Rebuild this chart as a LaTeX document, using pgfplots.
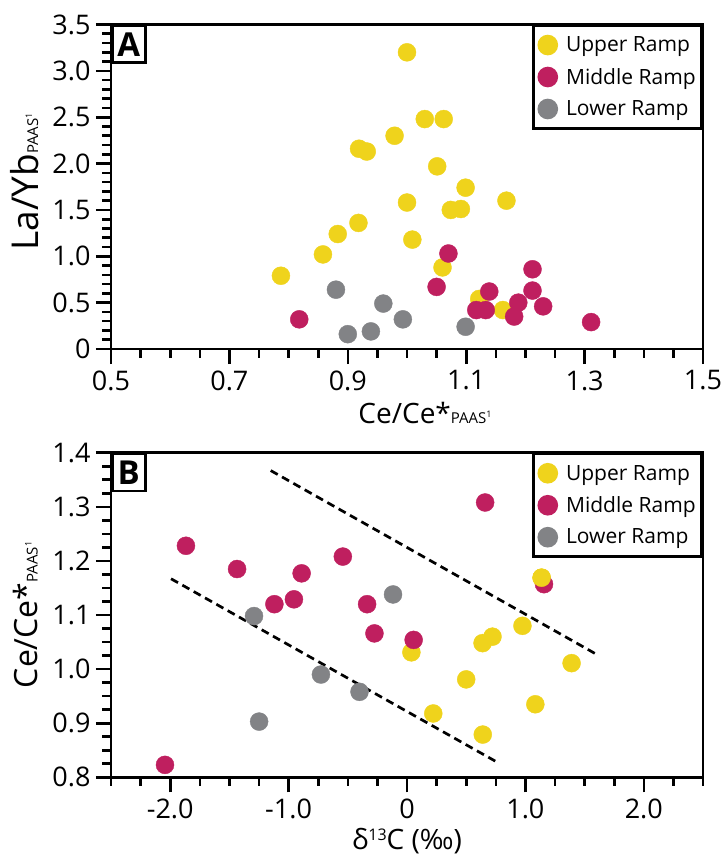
\documentclass[border=0pt]{standalone}
\usepackage{fontspec}
\setmainfont{Open Sans}
\usepackage{pgfplots}
\pgfplotsset{compat=1.18}
\definecolor{uyellow}{HTML}{EFD31C}
\definecolor{umag}{HTML}{BF1F5F}
\definecolor{ugrey}{HTML}{828386}
\newcommand\setfs[1]{\fontsize{#1}{#1}\selectfont}
\newcommand\paas{{\setfs{15}PAAS\raisebox{6pt}{\setfs{9}1}}}
\tikzset{tk/.style={black, line width=2.6pt}}

\pgfplotsset{
  panel/.style={
    scale only axis, width=592pt, height=324.5pt,
    anchor=south west, clip=false,
    axis line style={line width=2.6pt},
    xtick pos=left, ytick pos=left,
    tick align=outside,
    major tick length=15pt, minor tick length=9pt,
    tick style={black, line width=2.6pt},
    tick label style={font=\setfs{27}},
    xticklabel style={yshift=-3pt},
    yticklabel style={xshift=-2pt},
    legend style={at={(1,1)}, anchor=north east, draw=black, line width=2.6pt,
      font=\setfs{21}, inner sep=4pt, nodes={inner xsep=2pt, inner ysep=7pt},
      row sep=1pt, cells={anchor=west},
      /tikz/every odd column/.append style={column sep=6pt}},
    legend image code/.code={\fill[##1] (0pt,0pt) circle (9pt);},
  },
  up/.style={only marks, mark=*, mark size=9pt, color=uyellow, mark options={draw=none}},
  mid/.style={only marks, mark=*, mark size=9pt, color=umag, mark options={draw=none}},
  low/.style={only marks, mark=*, mark size=9pt, color=ugrey, mark options={draw=none}},
  trend/.style={black, line width=2.7pt, dash pattern=on 8pt off 5pt, forget plot},
}

\begin{document}
\begin{tikzpicture}

% panel A
\begin{axis}[panel, at={(111pt,-349pt)},
  xmin=0.5, xmax=1.5, ymin=0, ymax=3.5,
  xtick={0.5,0.7,0.9,1.1,1.3,1.5}, xticklabels={0.5,0.7,0.9,1.1,1.3,1.5},
  ytick={0,0.5,1,1.5,2,2.5,3,3.5}, yticklabels={0,0.5,1.0,1.5,2.0,2.5,3.0,3.5},
  xlabel={Ce/Ce*\paas},
  xlabel style={at={(axis description cs:0.5,0)}, anchor=base, yshift=-74pt, xshift=18pt, font=\setfs{28}},
  ylabel={La/Yb\paas},
  ylabel style={at={(axis description cs:-0.1233,0.515)}, anchor=base, font=\setfs{37}},
]
% tick marks
\pgfplotsinvokeforeach{0.5,0.7,0.9,1.1,1.3,1.5}{
  \draw[tk] (axis cs:#1,0) -- ++(0pt,-15pt);}
\pgfplotsinvokeforeach{0.55,0.6,0.65,0.75,0.8,0.85,0.95,1.0,1.05,1.15,1.2,1.25,1.35,1.4,1.45}{
  \draw[tk] (axis cs:#1,0) -- ++(0pt,-9pt);}
\pgfplotsinvokeforeach{0,0.5,1,1.5,2,2.5,3,3.5}{
  \draw[tk] (axis cs:0.5,#1) -- ++(-15pt,0pt);}
\pgfplotsinvokeforeach{0.1,0.2,0.3,0.4,0.6,0.7,0.8,0.9,1.1,1.2,1.3,1.4,1.6,1.7,1.8,1.9,2.1,2.2,2.3,2.4,2.6,2.7,2.8,2.9,3.1,3.2,3.3,3.4}{
  \draw[tk] (axis cs:0.5,#1) -- ++(-9pt,0pt);}
\addplot[up] coordinates {
  (0.787,0.79) (0.858,1.02) (0.883,1.24) (0.918,1.36) (0.919,2.16)
  (0.932,2.13) (0.979,2.30) (1.000,3.20) (1.030,2.48) (1.062,2.48)
  (1.051,1.97) (1.099,1.74) (1.000,1.58) (1.074,1.50) (1.091,1.51)
  (1.168,1.60) (1.009,1.18) (1.060,0.88) (1.122,0.54) (1.162,0.42)
};
\addplot[mid] coordinates {
  (0.818,0.32) (1.070,1.03) (1.050,0.67) (1.139,0.62) (1.117,0.42)
  (1.133,0.42) (1.188,0.50) (1.181,0.35) (1.212,0.86) (1.212,0.63)
  (1.230,0.46) (1.311,0.29)
};
\addplot[low] coordinates {
  (0.880,0.64) (0.900,0.16) (0.939,0.19) (0.960,0.49) (0.993,0.32) (1.099,0.24)
};
\legend{Upper Ramp, Middle Ramp, Lower Ramp}
\node[draw, line width=2.6pt, font=\bfseries\setfs{33}, inner sep=0pt,
  minimum width=33pt, minimum height=37pt, anchor=north west] at (rel axis cs:0,1) {A};
\end{axis}

% panel B
\begin{axis}[panel, at={(111pt,-777.3pt)}, height=324.6pt,
  xmin=-2.5, xmax=2.5, ymin=0.8, ymax=1.4,
  xtick={-2,-1,0,1,2}, xticklabels={-2.0,-1.0,0,1.0,2.0},
  ytick={0.8,0.9,1.0,1.1,1.2,1.3,1.4}, yticklabels={0.8,0.9,1.0,1.1,1.2,1.3,1.4},
  xlabel={δ\raisebox{9pt}{\setfs{16}13}C (‰)},
  xlabel style={at={(axis description cs:0.5,0)}, anchor=base, yshift=-72pt, font=\setfs{28}},
  ylabel={Ce/Ce*\paas},
  ylabel style={at={(axis description cs:-0.124,0.5)}, anchor=base, font=\setfs{32}},
]
% tick marks
\pgfplotsinvokeforeach{-2,-1,0,1,2}{
  \draw[tk] (axis cs:#1,0.8) -- ++(0pt,-15pt);}
\pgfplotsinvokeforeach{-2.5,-2.25,-1.75,-1.5,-1.25,-0.75,-0.5,-0.25,0.25,0.5,0.75,1.25,1.5,1.75,2.25,2.5}{
  \draw[tk] (axis cs:#1,0.8) -- ++(0pt,-9pt);}
\pgfplotsinvokeforeach{0.8,0.9,1.0,1.1,1.2,1.3,1.4}{
  \draw[tk] (axis cs:-2.5,#1) -- ++(-15pt,0pt);}
\pgfplotsinvokeforeach{0.825,0.85,0.875,0.925,0.95,0.975,1.025,1.05,1.075,1.125,1.15,1.175,1.225,1.25,1.275,1.325,1.35,1.375}{
  \draw[tk] (axis cs:-2.5,#1) -- ++(-9pt,0pt);}
\addplot[trend] coordinates {(-1.151,1.367) (1.587,1.029)};
\addplot[trend] coordinates {(-1.993,1.167) (0.745,0.830)};
\addplot[up] coordinates {
  (1.137,1.169) (0.037,1.031) (0.975,1.080) (0.722,1.060) (0.638,1.048)
  (1.390,1.011) (0.500,0.981) (1.084,0.935) (0.222,0.918) (0.640,0.879)
};
\addplot[mid] coordinates {
  (-1.867,1.228) (-1.435,1.185) (-0.890,1.177) (-0.542,1.208) (-1.120,1.120)
  (-0.955,1.129) (-0.337,1.120) (-0.275,1.066) (0.056,1.054) (0.660,1.308)
  (1.157,1.157) (-2.044,0.823)
};
\addplot[low] coordinates {
  (-0.118,1.138) (-1.292,1.098) (-0.727,0.990) (-0.401,0.958) (-1.249,0.903)
};
\addplot[up, forget plot] coordinates {(1.137,1.169)};
\legend{Upper Ramp, Middle Ramp, Lower Ramp}
\node[draw, line width=2.6pt, font=\bfseries\setfs{33}, inner sep=0pt,
  minimum width=33pt, minimum height=37pt, anchor=north west] at (rel axis cs:0,1) {B};
\end{axis}
\path (0,0) (722pt,-858pt);
\end{tikzpicture}
\end{document}
